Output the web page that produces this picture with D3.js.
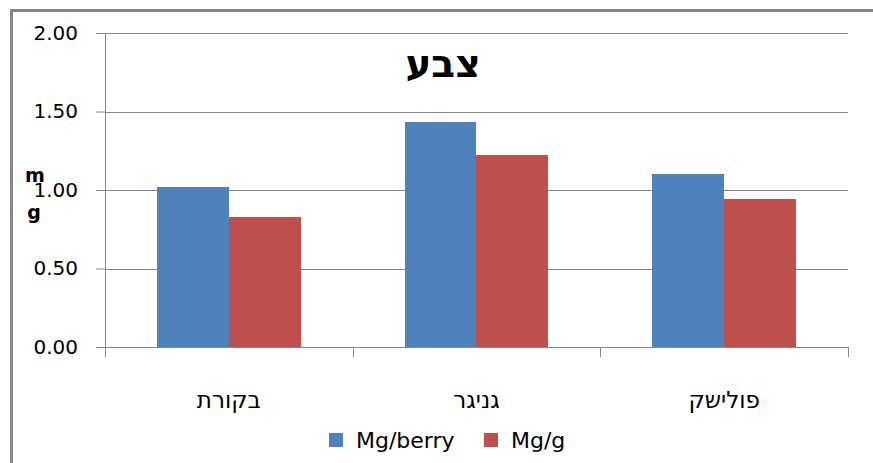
<!DOCTYPE html>
<html>
<head>
<meta charset="utf-8">
<script src="https://cdn.jsdelivr.net/npm/d3@7"></script>
<style>
  body { margin: 0; background: #fff; }
  svg { display: block; font-family: "DejaVu Sans", sans-serif; }
</style>
</head>
<body>
<div id="chart"></div>
<script>
// chart values
var categories = ["בקורת", "גניגר", "פולישק"];
var series = ["Mg/berry", "Mg/g"];
var mgBerry = [1.02, 1.43, 1.10];
var mgG = [0.83, 1.22, 0.94];
var yTicks = [0, 0.5, 1, 1.5, 2];
var colors = ["#4f81bd", "#c0504d"];

var W = 873, H = 463;
var plotLeft = 105, plotRight = 848, plotTop = 33, plotBottom = 347;

var svg = d3.select("#chart").append("svg")
    .attr("width", W)
    .attr("height", H);

// outer frame (top and left edge only visible)
svg.append("line").attr("x1", 10).attr("x2", W).attr("y1", 10.5).attr("y2", 10.5)
    .attr("stroke", "#868686").attr("stroke-width", 3);
svg.append("line").attr("x1", 11.5).attr("x2", 11.5).attr("y1", 9).attr("y2", H)
    .attr("stroke", "#868686").attr("stroke-width", 3);

var y = d3.scaleLinear().domain([0, 2]).range([plotBottom, plotTop]);

var x0 = d3.scaleBand().domain(categories).range([plotLeft, plotRight]).padding(0);
var x1 = d3.scaleBand().domain(series).range([0, x0.bandwidth()]).paddingInner(0).paddingOuter(0.72);

// grid lines
svg.append("g")
    .attr("class", "grid")
    .attr("transform", "translate(" + plotLeft + ",0)")
    .call(d3.axisLeft(y).tickValues(yTicks).tickSize(-(plotRight - plotLeft)).tickFormat(""))
    .call(function(g) { g.select(".domain").remove(); });

svg.selectAll(".grid line")
    .style("stroke", "#868686")
    .style("shape-rendering", "crispEdges");

// bars
var bars = [];
categories.forEach(function(c, i) {
    [mgBerry[i], mgG[i]].forEach(function(v, j) {
        var xs = x0(c) + x1(series[j]);
        bars.push({ x: Math.round(xs), x2: Math.round(xs + x1.bandwidth()), value: v, j: j });
    });
});

svg.append("g")
  .selectAll("rect")
  .data(bars)
  .enter().append("rect")
    .attr("x", function(d) { return d.x; })
    .attr("y", function(d) { return Math.round(y(d.value)); })
    .attr("width", function(d) { return d.x2 - d.x; })
    .attr("height", function(d) { return Math.round(y(0)) - Math.round(y(d.value)); })
    .attr("fill", function(d) { return colors[d.j]; })
    .style("shape-rendering", "crispEdges");

// y axis
var yAxis = svg.append("g")
    .attr("transform", "translate(" + plotLeft + ",0)")
    .call(d3.axisLeft(y).tickValues(yTicks).tickSize(9).tickSizeOuter(0).tickPadding(18)
        .tickFormat(d3.format(".2f")));
yAxis.select(".domain").attr("stroke", "#868686").attr("d", "M0.5," + plotTop + "V" + (plotBottom + 10));
yAxis.selectAll(".tick line").attr("stroke", "#868686");
yAxis.selectAll("text")
    .style("font-size", "20px")
    .style("font-family", "DejaVu Sans")
    .attr("fill", "#000");

// x axis with ticks between categories
var xAxis = svg.append("g").attr("transform", "translate(0," + plotBottom + ")");
xAxis.append("line")
    .attr("x1", plotLeft).attr("x2", plotRight)
    .attr("y1", 0.5).attr("y2", 0.5)
    .attr("stroke", "#868686");
var bounds = categories.map(function(c) { return x0(c); }).concat([plotRight]);
xAxis.selectAll(".xt")
    .data(bounds)
    .enter().append("line")
    .attr("class", "xt")
    .attr("x1", function(d) { return Math.round(d) + 0.5; })
    .attr("x2", function(d) { return Math.round(d) + 0.5; })
    .attr("y1", 0).attr("y2", 10)
    .attr("stroke", "#868686");
xAxis.selectAll(".xl")
    .data(categories)
    .enter().append("text")
    .attr("class", "xl")
    .attr("x", function(d) { return x0(d) + x0.bandwidth() / 2; })
    .attr("y", 61)
    .attr("text-anchor", "middle")
    .style("font-size", "23px")
    .text(function(d) { return d; });

// title
svg.append("text")
    .attr("x", 443)
    .attr("y", 77)
    .attr("text-anchor", "middle")
    .style("font-size", "39px")
    .style("font-weight", "bold")
    .text("צבע");

// y axis title, letters stacked
svg.append("text").attr("x", 35).attr("y", 182).attr("text-anchor", "middle")
    .style("font-size", "19px").style("font-weight", "bold").text("m");
svg.append("text").attr("x", 34).attr("y", 219).attr("text-anchor", "middle")
    .style("font-size", "19px").style("font-weight", "bold").text("g");

// legend
var legendX = [329, 484];
var leg = svg.append("g").selectAll("g")
    .data(series)
    .enter().append("g")
    .attr("transform", function(d, i) { return "translate(" + legendX[i] + ",433)"; });
leg.append("rect")
    .attr("width", 14).attr("height", 14)
    .attr("fill", function(d, i) { return colors[i]; });
leg.append("text")
    .attr("x", 27).attr("y", 15)
    .style("font-size", "22px")
    .text(function(d) { return d; });
</script>
</body>
</html>
